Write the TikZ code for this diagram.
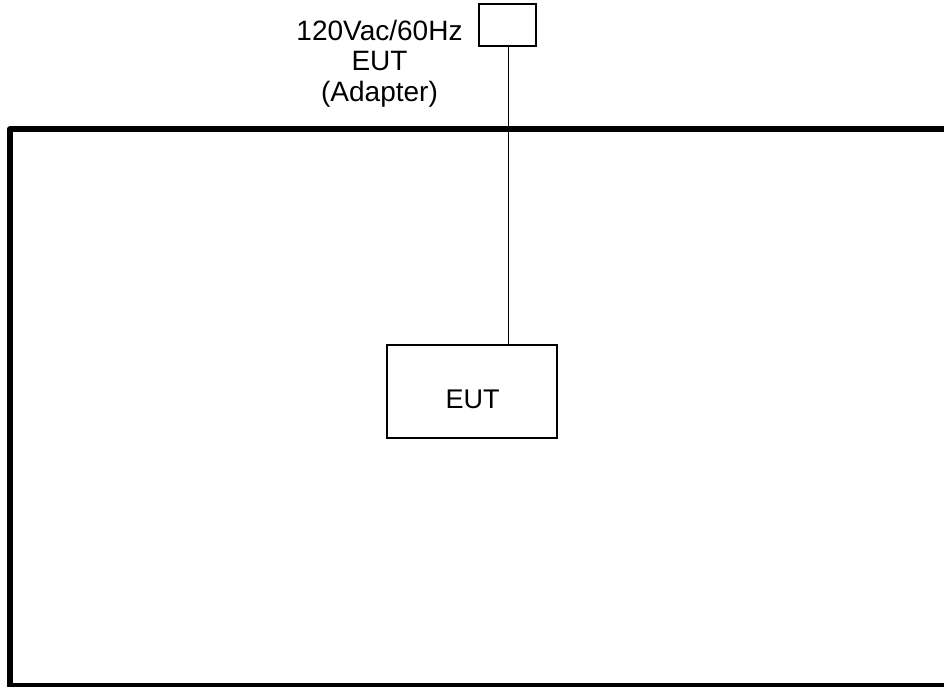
\documentclass[tikz,border=0pt]{standalone}
\usepackage{fontspec}
\setmainfont{Liberation Sans}
\begin{document}
\begin{tikzpicture}[x=1pt,y=-1pt,
  frame/.style={line width=6pt,line join=round},
  boxstyle/.style={draw,line width=2.2pt,inner sep=0pt},
  wire/.style={line width=1pt},
  lbl/.style={font=\fontsize{28}{30.5}\selectfont,inner sep=0pt},
  boxlbl/.style={font=\fontsize{27}{30}\selectfont,inner sep=0pt}]
\useasboundingbox (0,0) rectangle (944,687);
\clip (0,0) rectangle (944,687);
\fill[white] (0,0) rectangle (944,687);
% enclosure
\draw[frame] (960,129) -- (10,129) -- (10,685.5) -- (960,685.5);
% adapter box
\node[boxstyle,minimum width=57pt,minimum height=42pt] (adapter) at (507.5,25) {};
% label
\node[lbl,align=center,anchor=north] (adlabel) at (379.5,20) {120Vac/60Hz\\EUT\\(Adapter)};
% EUT box
\node[boxstyle,minimum width=170pt,minimum height=93pt] (eut) at (472,391.5) {};
\node[boxlbl] (eutlabel) at (472.5,399.5) {EUT};
% cable
\coordinate (top) at (508,46);
\draw[wire] (adapter.south -| top) -- (eut.north -| top);
\end{tikzpicture}
\end{document}
